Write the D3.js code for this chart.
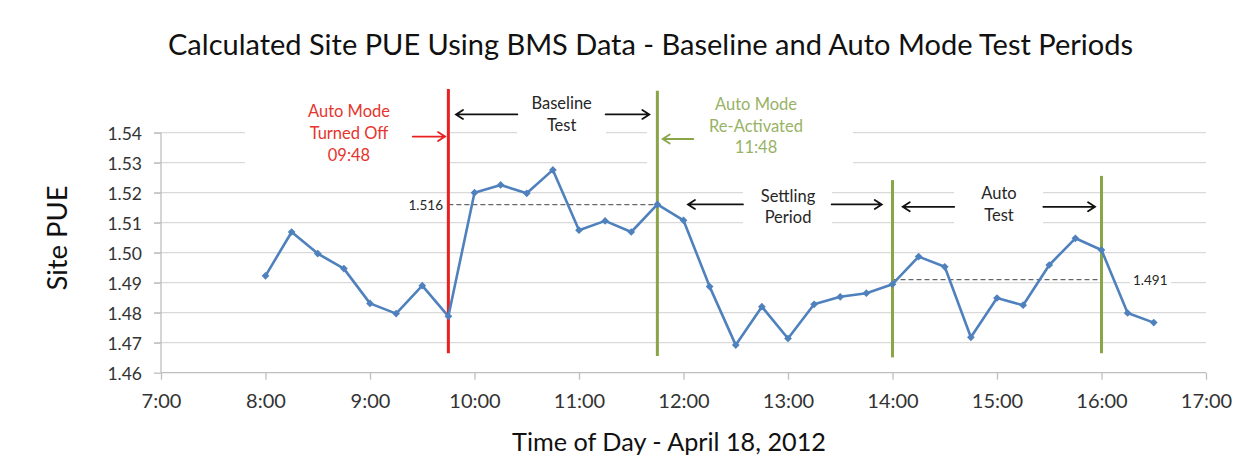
<!DOCTYPE html>
<html><head><meta charset="utf-8">
<script src="https://cdn.jsdelivr.net/npm/d3@7"></script>
<style>
html,body{margin:0;padding:0;background:#fff;}
svg{display:block;font-family:Lato,"Open Sans",sans-serif;}
</style></head><body>
<svg id="chart" width="1252" height="467"></svg>
<script>
// ---------- data ----------
const times = ["8:00","8:15","8:30","8:45","9:00","9:15","9:30","9:45",
  "10:00","10:15","10:30","10:45","11:00","11:15","11:30","11:45",
  "12:00","12:15","12:30","12:45","13:00","13:15","13:30","13:45",
  "14:00","14:15","14:30","14:45","15:00","15:15","15:30","15:45",
  "16:00","16:15","16:30"];
const pue = [1.4923,1.5069,1.4997,1.4947,1.4831,1.4797,1.4890,1.4788,
  1.5200,1.5226,1.5198,1.5276,1.5075,1.5106,1.5069,1.5161,
  1.5108,1.4887,1.4692,1.4820,1.4714,1.4828,1.4853,1.4865,
  1.4895,1.4987,1.4953,1.4718,1.4849,1.4825,1.4959,1.5048,
  1.5009,1.4799,1.4767];
const yTicks = [1.46,1.47,1.48,1.49,1.50,1.51,1.52,1.53,1.54];
const xTickLabels = ["7:00","8:00","9:00","10:00","11:00","12:00","13:00","14:00","15:00","16:00","17:00"];
const chartTitle = "Calculated Site PUE Using BMS Data - Baseline and Auto Mode Test Periods";
const xTitle = "Time of Day - April 18, 2012";
const yTitle = "Site PUE";
// event markers (vertical lines)
const eventTimes = ["9:45","11:45","14:00","16:00"];
const eventLow  = [1.4665,1.4656,1.4651,1.4665];
const eventHigh = [1.5546,1.5540,1.5242,1.5256];
const eventKind = ["off","on","on","on"];
// period averages
const avgLabels = ["1.516","1.491"];
const avgValues = [1.516,1.491];
const avgStart = ["9:45","14:00"];
const avgEnd = ["11:45","16:00"];

// ---------- helpers ----------
const hrs = t => { const [h,m] = t.split(":").map(Number); return h + m/60; };
const svg = d3.select("#chart");
const W = 1252, H = 467;
const x = d3.scaleLinear().domain([7,17]).range([161,1206]);
const y = d3.scaleLinear().domain([1.46,1.54]).range([372.7,132.7]);
const RED = "#e8201f", RED_TXT = "#e5352d", GREEN = "#8aa548", GREEN_TXT = "#98b266";
const BLUE = "#4f81bd", GRID = "#d9d9d9", AXIS = "#bfbfbf", DARK = "#262626";

function fit(sel, w){
  const len = sel.node().getComputedTextLength();
  const fs = parseFloat(sel.attr("font-size"));
  sel.attr("font-size", (fs*w/len).toFixed(2));
}

// ---------- gridlines ----------
const grid = svg.append("g");
grid.selectAll("line").data(yTicks.filter(d => d > 1.46)).join("line")
  .attr("x1", x(7)-7).attr("x2", x(17))
  .attr("y1", d => y(d)).attr("y2", d => y(d))
  .attr("stroke", GRID).attr("stroke-width", 1.3);

// white boxes of the annotation text frames (hide gridlines beneath)
const boxes = [
  [7.804, 9.766, 1.5542, 1.5259],
  [10.407, 11.258, 1.5542, 1.5369],
  [11.651, 13.622, 1.5542, 1.5259],
  [12.569, 13.421, 1.5242, 1.5069],
  [14.589, 15.440, 1.5242, 1.5069],
  [16.270, 16.665, 1.4936, 1.4869]
];
svg.append("g").selectAll("rect").data(boxes).join("rect")
  .attr("x", d => x(d[0])).attr("width", d => x(d[1]) - x(d[0]))
  .attr("y", d => y(d[2])).attr("height", d => y(d[3]) - y(d[2]))
  .attr("fill", "#fff");

// ---------- axes ----------
const yAxis = svg.append("g").attr("transform", `translate(${x(7)},0)`)
  .call(d3.axisLeft(y).tickValues(yTicks).tickSize(7).tickPadding(12).tickFormat(d3.format(".2f")));
yAxis.select(".domain").attr("stroke", AXIS).attr("stroke-width", 1.3).attr("d", `M0,${y(1.54)}V${y(1.46)}`);
yAxis.selectAll(".tick line").attr("stroke", AXIS).attr("stroke-width", 1.3);
yAxis.selectAll(".tick text").attr("font-size", 17.5).attr("fill", "#333").attr("font-family", "Lato").attr("dy", "0.38em");

const xAxis = svg.append("g").attr("transform", `translate(0,${y(1.46)})`)
  .call(d3.axisBottom(x).tickValues(d3.range(7,18)).tickSize(7).tickPadding(14)
    .tickFormat((d,i) => xTickLabels[i]));
xAxis.select(".domain").attr("stroke", AXIS).attr("stroke-width", 1.3).attr("d", `M${x(7)},0H${x(17)}`);
xAxis.selectAll(".tick line").attr("stroke", AXIS).attr("stroke-width", 1.3);
xAxis.selectAll(".tick text").attr("font-size", 20).attr("fill", "#333").attr("font-family", "Lato");

// ---------- titles ----------
const t1 = svg.append("text").attr("x", 650.5).attr("y", 55).attr("text-anchor","middle")
  .attr("font-size", 26).attr("fill", "#111").text(chartTitle);
fit(t1, 965);
const t2 = svg.append("text").attr("x", 669).attr("y", 451).attr("text-anchor","middle")
  .attr("font-size", 24).attr("fill", "#111").text(xTitle);
fit(t2, 314);
const t3 = svg.append("text").attr("transform", "translate(67,238) rotate(-90)").attr("text-anchor","middle")
  .attr("font-size", 26).attr("fill", "#111").text(yTitle);
fit(t3, 105);

// ---------- average reference lines ----------
const avgG = svg.append("g");
avgValues.forEach((v,i) => {
  avgG.append("line").attr("x1", x(hrs(avgStart[i]))).attr("x2", x(hrs(avgEnd[i])))
    .attr("y1", y(v)).attr("y2", y(v))
    .attr("stroke", "#404040").attr("stroke-width", 1).attr("stroke-dasharray", "5,3");
});
avgG.append("text").attr("x", x(9.699)).attr("y", y(avgValues[0])).attr("dy","0.36em")
  .attr("text-anchor","end").attr("font-size", 13.5).attr("fill", DARK).text(avgLabels[0]);
avgG.append("text").attr("x", x(16.301)).attr("y", y(avgValues[1])).attr("dy","0.36em")
  .attr("text-anchor","start").attr("font-size", 13.5).attr("fill", DARK).text(avgLabels[1]);

// ---------- event lines ----------
svg.append("g").selectAll("line").data(eventTimes).join("line")
  .attr("x1", d => x(hrs(d))).attr("x2", d => x(hrs(d)))
  .attr("y1", (d,i) => y(eventHigh[i])).attr("y2", (d,i) => y(eventLow[i]))
  .attr("stroke", (d,i) => eventKind[i] === "off" ? RED : GREEN)
  .attr("stroke-width", 3);

// ---------- series ----------
const pts = times.map((t,i) => [hrs(t), pue[i]]);
svg.append("path").datum(pts)
  .attr("d", d3.line().x(d => x(d[0])).y(d => y(d[1])))
  .attr("fill","none").attr("stroke", BLUE).attr("stroke-width", 2.6).attr("stroke-linejoin","round");
svg.append("g").selectAll("path").data(pts).join("path")
  .attr("d", d3.symbol(d3.symbolSquare, 30))
  .attr("transform", d => `translate(${x(d[0])},${y(d[1])}) rotate(45)`)
  .attr("fill", BLUE);

// ---------- annotations ----------
const notes = [
  {lines:["Auto Mode","Turned Off","09:48"], color: RED_TXT, hx: 8.799, v: 1.5451},
  {lines:["Baseline","Test"], color: DARK, hx: 10.834, v: 1.5478},
  {lines:["Auto Mode","Re-Activated","11:48"], color: GREEN_TXT, hx: 12.694, v: 1.5476},
  {lines:["Settling","Period"], color: DARK, hx: 13.0, v: 1.5170},
  {lines:["Auto","Test"], color: DARK, hx: 15.019, v: 1.5178}
];
const noteG = svg.append("g");
notes.forEach(n => {
  const t = noteG.append("text").attr("text-anchor","middle").attr("font-size", 16.5).attr("fill", n.color);
  n.lines.forEach((s,j) => t.append("tspan").attr("x", x(n.hx)).attr("y", y(n.v) + j*21.7).text(s));
});
const arrows = [
  [9.409, 9.718, 1.5387, RED],
  [10.410, 9.823, 1.5461, "#111"],
  [11.255, 11.673, 1.5461, "#111"],
  [12.094, 11.801, 1.5379, GREEN],
  [12.569, 12.043, 1.5161, "#111"],
  [13.418, 13.897, 1.5161, "#111"],
  [14.591, 14.098, 1.5153, "#111"],
  [15.443, 15.938, 1.5153, "#111"]
];
const arG = svg.append("g").attr("fill","none").attr("stroke-width", 1.8).attr("stroke-linecap","round");
arrows.forEach(a => {
  const x1 = x(a[0]), x2 = x(a[1]), yy = y(a[2]);
  const dir = x2 > x1 ? 1 : -1;
  arG.append("path").attr("stroke", a[3])
    .attr("d", `M${x1},${yy}H${x2}M${x2 - dir*7},${yy-4.5}L${x2},${yy}L${x2 - dir*7},${yy+4.5}`);
});
</script>
</body></html>
